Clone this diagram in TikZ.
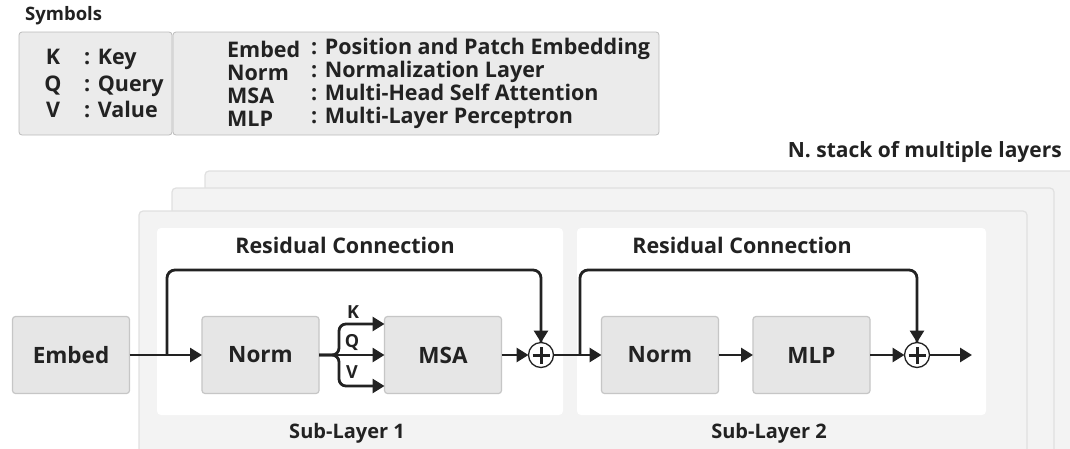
\documentclass[tikz,border=0pt]{standalone}
\usepackage{fontspec}
\setmainfont{Open Sans}
\usetikzlibrary{arrows.meta}
\definecolor{ink}{HTML}{222222}
\definecolor{blockfill}{HTML}{E6E6E6}
\definecolor{blockline}{HTML}{C6C6C6}
\definecolor{layerfill}{HTML}{F3F3F3}
\definecolor{layerline}{HTML}{E0E0E0}
\definecolor{legendfill}{HTML}{EBEBEB}
\definecolor{legendline}{HTML}{BABABA}
\newcommand\txtsz[2]{\fontsize{#1}{#2}\selectfont\bfseries}
\begin{document}
\begin{tikzpicture}[x=1pt,y=-1pt,
  block/.style={draw=blockline, fill=blockfill, line width=1.2pt, rounded corners=3pt,
    minimum width=117pt, minimum height=77pt, inner sep=0pt, outer sep=0pt,
    text=ink, font=\txtsz{22.5}{26}},
  layer/.style={draw=layerline, fill=layerfill, line width=1.2pt, rounded corners=4pt},
  inner/.style={fill=white, rounded corners=4pt},
  legend/.style={draw=legendline, fill=legendfill, line width=0.8pt, rounded corners=3pt},
  legendtext/.style={text=ink, inner sep=0pt},
  title/.style={text=ink, font=\txtsz{21.5}{25}, inner sep=0pt},
  caption/.style={text=ink, font=\txtsz{20}{24}, inner sep=0pt},
  small/.style={text=ink, font=\txtsz{18}{21}, inner sep=0pt},
  flow/.style={draw=ink, line width=2.8pt, -{Triangle[length=12pt,width=14pt]}},
  wire/.style={draw=ink, line width=2.8pt},
  adder/.style={circle, draw=ink, fill=white, line width=1.3pt, minimum size=25pt,
    inner sep=0pt, outer sep=0pt},
]
\useasboundingbox (0,0) rectangle (1070,448);

% stacked layer frames, running off the page at the bottom and right
\begin{scope}
  \clip (0,0) rectangle (1070,448);
  \path[layer] (205,171) rectangle (1090,470);
  \path[layer] (172,188) rectangle (1054,470);
  \path[layer] (139,211) rectangle (1027,470);
\end{scope}
\path[inner] (157,228) rectangle (563,415);
\path[inner] (577,228) rectangle (986,415);

% legend
\node[small, font=\txtsz{18.5}{22}, anchor=west] (symtitle) at (25,16) {Symbols};
\path[legend] (19,32) rectangle (172,135);
\path[legend] (173,32) rectangle (659,135);
\node[legendtext, font=\txtsz{21.5}{26.5}, align=center] (symkeys) at (53,83.5) {K\\Q\\V};
\node[legendtext, font=\txtsz{21.5}{26.5}, align=left, anchor=west] (symvals) at (84,83.5) {: Key\\: Query\\: Value};
\node[legendtext, font=\txtsz{21.5}{23}, align=left, anchor=west] (abbrkeys) at (227,83.5) {Embed\\Norm\\MSA\\MLP};
\node[legendtext, font=\txtsz{21.5}{23}, align=left, anchor=west] (abbrvals) at (311,83.5)
  {: Position and Patch Embedding\\: Normalization Layer\\: Multi-Head Self Attention\\: Multi-Layer Perceptron};

\node[title, font=\txtsz{21}{25}, anchor=east] (stack) at (1062,152) {N. stack of multiple layers};

% captions
\node[title] (res1) at (345,245) {Residual Connection};
\node[title] (res2) at (742,245) {Residual Connection};
\node[caption] (sub1) at (347,433) {Sub-Layer 1};
\node[caption] (sub2) at (769,433) {Sub-Layer 2};

% blocks
\node[block] (embed) at (71,355) {Embed};
\node[block] (norm1) at (260.5,355) {Norm};
\node[block] (msa) at (443,355) {MSA};
\node[block] (norm2) at (660,355) {Norm};
\node[block] (mlp) at (811.5,355) {MLP};
\node[adder] (add1) at (541,355) {};
\node[adder] (add2) at (917,355) {};
\foreach \a in {add1,add2}{
  \draw[ink, line width=3pt] ([xshift=-8.5pt]\a.center) -- ([xshift=8.5pt]\a.center);
  \draw[ink, line width=3pt] ([yshift=-8.5pt]\a.center) -- ([yshift=8.5pt]\a.center);
}

% branch points and ends
\coordinate (tap1) at (167,355);
\coordinate (tap2) at (580,355);
\coordinate (fork) at (339,355);
\coordinate (out) at (972,355);

% sub-layer 1
\draw[flow] (embed.east) -- (norm1.west);
\draw[wire, rounded corners=8pt] (tap1) -- (167,270) -| (add1.north);
\draw[flow] (add1.north |- 300,300) -- (add1.north);
\draw[wire] (norm1.east) -- (fork);
\draw[flow, rounded corners=7pt] (norm1.east) -- (fork) |- (msa.west |- 0,324);
\draw[flow] (fork) -- (msa.west);
\draw[flow, rounded corners=7pt] (norm1.east) -- (fork) |- (msa.west |- 0,386);
\node[small] (lk) at (353,312) {K};
\node[small] (lq) at (352,342) {Q};
\node[small] (lv) at (352,372) {V};
\draw[flow] (msa.east) -- (add1.west);

% sub-layer 2
\draw[flow] (add1.east) -- (norm2.west);
\draw[wire, rounded corners=8pt] (tap2) -- (580,270) -| (add2.north);
\draw[flow] (add2.north |- 300,300) -- (add2.north);
\draw[flow] (norm2.east) -- (mlp.west);
\draw[flow] (mlp.east) -- (add2.west);
\draw[flow] (add2.east) -- (out);
\end{tikzpicture}
\end{document}
